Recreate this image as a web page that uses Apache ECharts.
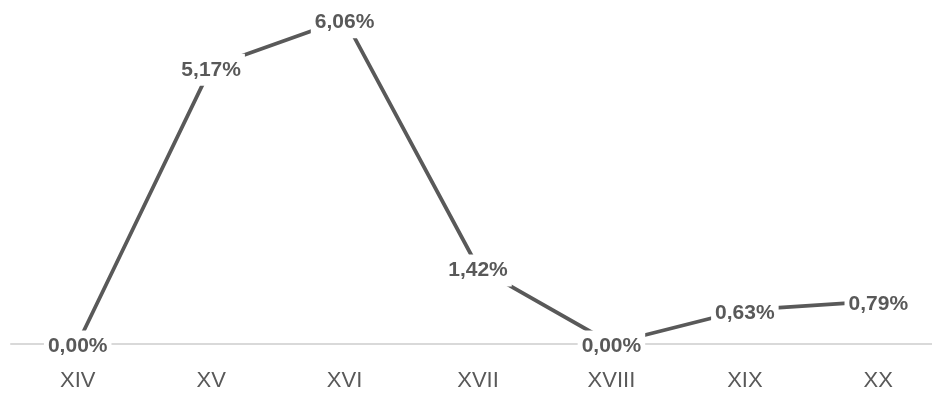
<!DOCTYPE html>
<html>
<head>
<meta charset="utf-8">
<script src="https://cdn.jsdelivr.net/npm/echarts@6/dist/echarts.min.js"></script>
<style>
  html, body { margin: 0; padding: 0; background: #ffffff; }
  #chart { width: 932px; height: 396px; }
</style>
</head>
<body>
<div id="chart"></div>
<script>
// Centuries on the category axis
const centuries = ['XIV', 'XV', 'XVI', 'XVII', 'XVIII', 'XIX', 'XX'];
// Share per century, in percent
const shares = [0.00, 5.17, 6.06, 1.42, 0.00, 0.63, 0.79];

const chart = echarts.init(document.getElementById('chart'));

const fmt = v => v.toFixed(2).replace('.', ',') + '%';

chart.setOption({
  backgroundColor: '#ffffff',
  animation: false,
  grid: {
    left: 11,
    top: 1,
    width: 934,
    height: 342.5,
    outerBoundsMode: 'none',
    containLabel: false
  },
  xAxis: {
    type: 'category',
    data: centuries,
    boundaryGap: true,
    axisLine: { show: true, lineStyle: { color: '#d9d9d9', width: 2 } },
    axisTick: { show: false },
    axisLabel: {
      color: '#595959',
      fontFamily: 'Liberation Sans',
      fontSize: 22,
      margin: 26
    },
    splitLine: { show: false }
  },
  yAxis: {
    type: 'value',
    min: 0,
    max: 6.4,
    show: false,
    splitLine: { show: false }
  },
  series: [{
    type: 'line',
    data: shares,
    clip: false,
    symbol: 'circle',
    symbolSize: 1,
    showSymbol: true,
    lineStyle: { color: '#595959', width: 3.75 },
    itemStyle: { color: '#595959' },
    label: {
      show: true,
      position: 'inside',
      offset: [0, 3],
      formatter: p => fmt(p.value),
      color: '#595959',
      fontFamily: 'Liberation Sans',
      fontWeight: 'bold',
      fontSize: 21,
      backgroundColor: '#ffffff',
      padding: [3, 4, 8, 4]
    }
  }]
});
</script>
</body>
</html>
